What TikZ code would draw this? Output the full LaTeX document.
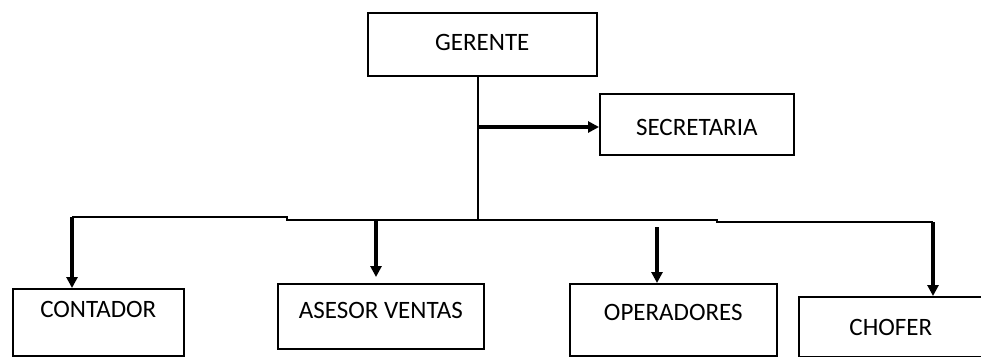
\documentclass[tikz,border=0pt]{standalone}
\usepackage{fontspec}
\setmainfont{Carlito}
\usetikzlibrary{arrows.meta}

\tikzset{
	caja/.style={draw,line width=1.6pt,inner sep=0pt,anchor=north west},
	linea/.style={line width=2pt},
	flecha/.style={line width=3.4pt,-{Triangle[length=11pt,width=11pt]}}
}

\begin{document}
\begin{tikzpicture}[x=1pt,y=-1pt,font=\fontsize{25}{29}\selectfont]
\clip (0,0) rectangle (981,356);
\fill[white] (0,0) rectangle (981,356);
\node[caja,minimum width=229pt,text height=38pt,text depth=25pt](gerente) at (367,12){GERENTE};
\node[caja,minimum width=194pt,text height=42pt,text depth=19pt](secretaria) at (599,93){SECRETARIA};
\node[caja,minimum width=171pt,text height=29pt,text depth=38pt](contador) at (12,288){CONTADOR};
\node[caja,minimum width=206pt,text height=35pt,text depth=30pt](asesor) at (277,283){ASESOR VENTAS};
\node[caja,minimum width=207pt,text height=37pt,text depth=35pt](operadores) at (569,283){OPERADORES};
\node[caja,minimum width=184pt,text height=39pt,text depth=21pt](chofer) at (798,296){CHOFER};
% tronco y barra
\coordinate (tronco) at (478,220);
\coordinate (pc) at (72,217);
\coordinate (pa) at (376,220);
\coordinate (po) at (657,227);
\coordinate (pf) at (933,222);
\draw[linea] (tronco |- gerente.south) -- (tronco);
\draw[flecha] (tronco |- 0,127) -- (secretaria.west |- 0,127);
\draw[line width=2.4pt] (pc) -- (287,217) -- (287,220) -- (717,220) -- (717,222) -- (pf);
% flechas hacia abajo
\draw[flecha] (pc) -- (pc |- contador.north);
\draw[flecha,shorten >=6pt] (pa) -- (pa |- asesor.north);
\draw[flecha] (po) -- (po |- operadores.north);
\draw[flecha] (pf) -- (pf |- chofer.north);
\end{tikzpicture}
\end{document}
